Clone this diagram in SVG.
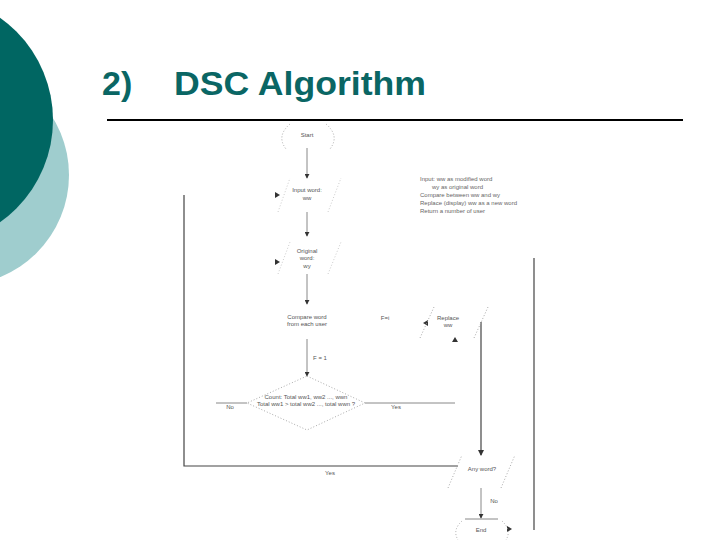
<svg xmlns="http://www.w3.org/2000/svg" width="720" height="540" viewBox="0 0 720 540">
<defs>
<style>
.title{font-family:"Liberation Sans",Arial,sans-serif;font-weight:bold;fill:#0a6664}
.t{font-family:"Liberation Sans",Arial,sans-serif;font-size:6px;fill:#555;text-anchor:middle}
.tl{font-family:"Liberation Sans",Arial,sans-serif;font-size:6px;fill:#666}
.ln{stroke:#888;stroke-width:1;fill:none}
.dk{stroke:#444;stroke-width:1.2;fill:none}
.dot{stroke:#aaa;stroke-width:1;stroke-dasharray:1,2;fill:none}
.faint{stroke:#ccc;stroke-width:1;stroke-dasharray:1,2;fill:none}
.ah{fill:#333}
</style>
<marker id="arr" viewBox="0 0 6 6" refX="5" refY="3" markerWidth="5" markerHeight="5" orient="auto">
<path d="M0,0 L6,3 L0,6 z" fill="#333"/>
</marker>
</defs>
<rect width="720" height="540" fill="#fff"/>
<g id="decoration">
<circle cx="-41" cy="175" r="110" fill="#9fcdce"/>
<circle cx="-72" cy="120" r="125" fill="#006662"/>
</g>
<g id="title">
<text class="title" x="102" y="95" font-size="34">2)</text>
<text class="title" x="174" y="95" font-size="34" textLength="252" lengthAdjust="spacingAndGlyphs">DSC Algorithm</text>
<line x1="107" y1="120" x2="683" y2="120" stroke="#000" stroke-width="2"/>
</g>
<g id="connectors">
<line class="ln" x1="307" y1="148" x2="307" y2="178" marker-end="url(#arr)"/>
<line class="ln" x1="307" y1="212" x2="307" y2="236" marker-end="url(#arr)"/>
<line class="ln" x1="307" y1="274" x2="307" y2="304" marker-end="url(#arr)"/>
<line class="ln" x1="307" y1="339" x2="307" y2="376" marker-end="url(#arr)"/>
<line class="ln" x1="247" y1="403" x2="216" y2="403"/>
<line class="ln" x1="365" y1="403" x2="455" y2="403"/>
<polyline class="dk" points="184,195 184,466 458,466"/>
<line class="dk" x1="534" y1="258" x2="534" y2="530"/>
<line class="dk" x1="481" y1="322" x2="481" y2="455" marker-end="url(#arr)"/>
<line class="ln" x1="481" y1="488" x2="481" y2="518" marker-end="url(#arr)"/>
<line class="ln" x1="465" y1="519" x2="498" y2="519"/>
<path class="ah" d="M275,192 L280,195 L275,198 z"/>
<path class="ah" d="M275,259 L280,262 L275,265 z"/>
<path class="ah" d="M428,320 L423,323 L428,326 z"/>
<path class="ah" d="M452,342 L455,337 L458,342 z"/>
<path class="ah" d="M507,526 L512,529 L507,532 z"/>
<text class="t" x="320" y="360">F = 1</text>
<text class="t" x="230" y="409">No</text>
<text class="t" x="396" y="409">Yes</text>
<text class="t" x="330" y="475">Yes</text>
<text class="t" x="385" y="320">F=i</text>
<text class="t" x="494" y="503">No</text>
</g>
<g id="start">
<path class="dot" d="M290,124 Q276,136 286,149 M326,124 Q340,136 330,149"/>
<text class="t" x="307" y="137">Start</text>
</g>
<g id="input">
<line class="faint" x1="278" y1="212" x2="290" y2="178"/>
<line class="faint" x1="328" y1="212" x2="341" y2="178"/>
<text class="t" x="307" y="192">Input word:</text>
<text class="t" x="307" y="200">ww</text>
</g>
<g id="original">
<line class="faint" x1="278" y1="274" x2="290" y2="242"/>
<line class="faint" x1="328" y1="274" x2="341" y2="242"/>
<text class="t" x="307" y="253">Original</text>
<text class="t" x="307" y="260">word:</text>
<text class="t" x="307" y="268">wy</text>
</g>
<g id="compare">
<text class="t" x="307" y="319">Compare word</text>
<text class="t" x="307" y="326">from each user</text>
</g>
<g id="count">
<path class="dot" d="M307,376 L365,403 L307,430 L247,403 z"/>
<text class="t" x="306" y="399">Count: Total ww1, ww2 ..., wwn</text>
<text class="t" x="306" y="406">Total ww1 &gt; total ww2 ..., total wwn ?</text>
</g>
<g id="replace">
<line class="dot" x1="420" y1="338" x2="434" y2="307"/>
<line class="dot" x1="474" y1="338" x2="488" y2="307"/>
<text class="t" x="448" y="320">Replace</text>
<text class="t" x="448" y="327">ww</text>
</g>
<g id="anyword">
<line class="dot" x1="448" y1="488" x2="462" y2="455"/>
<line class="dot" x1="501" y1="488" x2="515" y2="455"/>
<text class="t" x="482" y="471">Any word?</text>
</g>
<g id="end">
<path class="dot" d="M462,521 Q452,530 458,540 M502,521 Q512,530 506,540"/>
<text class="t" x="481" y="532">End</text>
</g>
<g id="notes">
<text class="tl" x="420" y="181">Input: ww as modified word</text>
<text class="tl" x="432" y="189">wy as original word</text>
<text class="tl" x="420" y="197">Compare between ww and wy</text>
<text class="tl" x="420" y="205">Replace (display) ww as a new word</text>
<text class="tl" x="420" y="213">Return a number of user</text>
</g>
</svg>
